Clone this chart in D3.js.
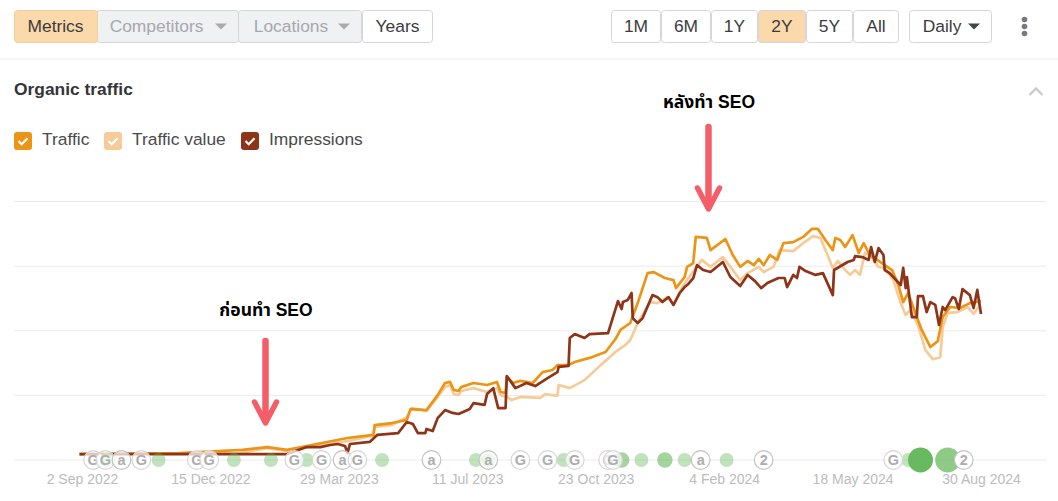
<!DOCTYPE html>
<html lang="en">
<head>
<meta charset="utf-8">
<title>Organic traffic</title>
<script type="text/javascript" src="https://d3js.org/d3.v7.min.js"></script>
<style type="text/css">
    html, body { margin: 0; padding: 0; background: #fff; }
    svg { display: block; }
    text { font-family: "Liberation Sans", Arial, sans-serif; }
    .thai { font-family: "Liberation Sans", "Noto Sans Thai", "Noto Sans", "DejaVu Sans", sans-serif; font-weight: 700; font-size: 17.5px; fill: #000; }
</style>
</head>
<body>
<script type="text/javascript">
// values are % of the top gridline, days are counted from 2 Sep 2022
var tickDates = ["2022-09-02", "2022-12-15", "2023-03-29", "2023-07-11", "2023-10-23", "2024-02-04", "2024-05-18", "2024-08-30"];
var gridValues = [0, 25, 50, 75, 100];

var trafficDays = [-2,79,130,150,166,182,215,236,237,251,263,266,279,288,294,298,301,305,307,317,328,336,339,343,344,349,355,365,373,381,385,394,399,411,424,432,436,444,450,458,463,472,479,481,488,490,495,497,506,509,521,527,533,539,544,548,552,557,563,568,576,584,591,596,602,608,610,614,618,624,629,633,638,644,650,656,661,665,669,676,680,687,693,697,703,711,719,728];
var trafficValues = [2.3,2.7,3.9,5,3.9,5.4,8.5,9.7,13.5,14.3,15.5,19.7,19.3,25.1,29.8,30.2,27.1,26.7,28.2,29.8,29,30.2,26.3,25.9,32.1,29.8,30.6,29.8,34,34.8,36.7,36.7,37.9,39.5,41.8,46.8,50.3,53,60.7,72.3,72.7,70.4,69.6,66.5,70.8,74.7,76.2,86.3,85.9,81.2,85.5,79.3,74.7,77,75.4,77.8,75.4,79.3,77.4,83.9,84.3,86.3,89.4,89.4,85.1,81.2,85.9,85.1,82.4,87,80.1,83.9,79.3,77.4,75.4,73.5,67.7,61.1,64.6,55.3,50.3,43.7,46,55.3,59.2,58.8,60.7,61.5];

var valueDays = [-2,128,150,166,182,215,236,237,251,263,267,279,288,294,298,301,305,307,317,328,336,339,344,348,355,371,375,385,386,395,407,420,432,440,444,450,460,466,474,479,487,497,502,509,519,527,533,539,548,552,560,565,576,584,592,598,603,608,612,618,622,626,630,634,638,645,650,657,663,667,671,677,683,689,695,697,701,709,717,722,727];
var valueValues = [2.3,2.7,4.6,3.5,5,7.3,9.5,12.8,13.5,16.6,20.1,19,24.4,28.2,29,25.5,25.1,26.7,27.8,26.3,27.8,25.1,24.4,23.2,24.4,24,25.5,24.8,29,27.8,30.9,36.7,41.8,44.5,46.4,53,61.1,60.7,63,60,67.7,74.3,77.4,74.7,78.5,73.5,69.6,72.3,74.7,72.7,74.7,81.2,80.8,83.9,86.6,85.9,80.1,74.3,77,73.5,71.6,73.5,71.6,80.1,79.3,74.7,74.3,69.6,60.7,56.1,58,52.2,42.5,39,39.8,51.4,56.9,57.2,59.2,56.5,60];

var impressionDays = [-2,128,166,182,193,201,207,213,215,217,233,239,256,263,268,272,278,279,284,288,294,300,305,314,317,326,328,333,337,343,344,351,360,367,377,385,386,394,395,399,407,411,426,434,437,438,442,445,446,450,454,462,466,470,475,479,484,488,491,495,498,503,509,519,525,533,539,545,550,555,564,569,571,576,579,581,586,594,600,608,609,620,625,626,632,637,639,642,645,649,650,654,663,665,667,668,672,676,677,681,684,687,691,694,697,699,705,707,710,713,719,722,725,728];
var impressionValues = [2.3,2.3,2.3,5,5,5.8,6.2,5.4,2.7,6.2,7,9.7,10.4,14.7,13.9,10.4,10.4,12,11.2,16.2,19.3,18.2,17.8,19.7,22,21.3,25.5,27.8,20.1,20.1,32.5,27.8,29.8,28.6,31.7,34,36,36.4,47.2,48.7,47.2,48.7,49.1,61.5,58.4,61.1,61.9,64.6,54.9,53,54.9,63.8,63,61.1,63,60,64.6,66.9,68.1,70.4,75.4,73.5,72.7,76.6,70.8,67.3,71.6,69.2,66.5,68.5,70.4,70.4,66.9,71.6,70.4,74.7,73.1,71.6,72.3,63.8,73.5,76.6,77.4,78.9,78.5,77.4,82.4,76.6,82,79.3,73.5,72.3,67.7,74.3,66.5,70.8,55.3,55.3,63.4,63.4,57.2,61.1,60,52.2,59.2,58,63,62.6,58.4,66.1,63.8,58.8,65.8,56.5];

var seriesNames = ["Traffic value", "Traffic", "Impressions"];
var seriesColors = ["#f6cb98", "#ec9415", "#8e3418"];

var greenDays = [20,62,123,153,182,243,319,329,390,437,453,472,488,522,669,701,679];
var greenWeights = [1,1,1,1,1,1,1,1,1,1.4,1,1.4,1,1,1,4,5];

var markDays = [9,19,32,48,93,103,172,194,211,223,283,329,355,377,399,426,430,501,552,657,714];
var markLabels = ["G","G","a","G","G","G","G","G","a","G","a","a","G","G","G","G","G","a","2","G","2"];

var legendNames = ["Traffic", "Traffic value", "Impressions"];
var legendColors = ["#ec9415", "#f6cb98", "#8e3418"];

var svg = d3.select("body").append("svg")
    .attr("width", 1058)
    .attr("height", 501);

var parseDate = d3.timeParse("%Y-%m-%d");
var startDate = parseDate(tickDates[0]);

var x = d3.scaleTime()
    .domain([startDate, parseDate(tickDates[tickDates.length - 1])])
    .range([82, 981]);

var y = d3.scaleLinear()
    .domain([0, 100])
    .range([460, 201.5]);

function dayX(d) {
    return x(d3.timeDay.offset(startDate, d));
}

// ---- toolbar ----
function button(b) {
    var g = svg.append("g");
    g.append("rect")
        .attr("x", b.x0 + 0.5).attr("y", 10.5)
        .attr("width", b.x1 - b.x0 - 1).attr("height", 32)
        .attr("rx", 3)
        .attr("fill", b.fill || "#fff")
        .attr("stroke", b.stroke || "#d4d6d9");
    g.append("text")
        .attr("x", b.tx).attr("y", 32)
        .attr("font-size", 17.4)
        .attr("text-anchor", b.anchor || "middle")
        .attr("fill", b.color || "#3b3b3d")
        .text(b.label);
    if (b.caret) {
        g.append("path")
            .attr("d", "M" + (b.caret - 6) + ",23.5h12l-6,6z")
            .attr("fill", b.caretColor || "#a8aaae");
    }
}

button({x0: 238, x1: 362, fill: "#f0f1f3", tx: 291, color: "#a6a8ac", label: "Locations", caret: 344});
button({x0: 96, x1: 239, fill: "#f0f1f3", tx: 156.5, color: "#a6a8ac", label: "Competitors", caret: 221});
button({x0: 14, x1: 98, fill: "#fcd9ab", stroke: "#f3cfa0", tx: 55.5, label: "Metrics"});
button({x0: 362, x1: 433, tx: 397.5, label: "Years"});

var ranges = ["1M", "6M", "1Y", "2Y", "5Y", "All"];
var rangeEdges = [611, 661, 711, 758, 806, 853, 899];
ranges.forEach(function(r, i) {
    button({x0: rangeEdges[i], x1: rangeEdges[i + 1], tx: (rangeEdges[i] + rangeEdges[i + 1]) / 2,
        label: r, fill: r == "2Y" ? "#fcd9ab" : "#fff"});
});
button({x0: 909, x1: 992, tx: 942, label: "Daily", caret: 974, caretColor: "#444"});

[-7, 0, 7].forEach(function(d) {
    svg.append("circle").attr("cx", 1024.5).attr("cy", 26.5 + d).attr("r", 2.8).attr("fill", "#77797c");
});

svg.append("line")
    .attr("x1", 0).attr("x2", 1058)
    .attr("y1", 59).attr("y2", 59)
    .attr("stroke", "#ececec");

svg.append("text")
    .attr("x", 14).attr("y", 95)
    .attr("font-size", 17.4)
    .attr("font-weight", 700)
    .attr("fill", "#333538")
    .text("Organic traffic");

svg.append("path")
    .attr("d", "M1029.5,95l6.5,-6.5l6.5,6.5")
    .attr("fill", "none")
    .attr("stroke", "#c9cbce")
    .attr("stroke-width", 2.4);

// ---- legend ----
var legendX = [14, 104, 241];
var legend = svg.selectAll(".legend")
    .data(legendNames)
    .enter().append("g")
    .attr("class", "legend")
    .attr("transform", function(d, i) { return "translate(" + legendX[i] + ",132)"; });

legend.append("rect")
    .attr("width", 18).attr("height", 18).attr("rx", 3)
    .attr("fill", function(d, i) { return legendColors[i]; });

legend.append("path")
    .attr("d", "M4.5,9l3.2,3.2l5.8,-6")
    .attr("fill", "none")
    .attr("stroke", "#fff")
    .attr("stroke-width", 2.2);

legend.append("text")
    .attr("x", 28).attr("y", 13)
    .attr("font-size", 17.4)
    .attr("fill", "#4a4a4c")
    .text(function(d) { return d; });

// ---- grid and axis ----
svg.selectAll(".grid")
    .data(gridValues)
    .enter().append("line")
    .attr("class", "grid")
    .attr("x1", 14).attr("x2", 1046)
    .attr("y1", function(d) { return y(d); })
    .attr("y2", function(d) { return y(d); })
    .attr("stroke", "#ebebeb");

var xAxis = d3.axisBottom(x)
    .tickValues(tickDates.map(parseDate))
    .tickFormat(d3.timeFormat("%-d %b %Y"))
    .tickSize(0)
    .tickPadding(14);

var axisG = svg.append("g")
    .attr("transform", "translate(0,460)")
    .call(xAxis);
axisG.select(".domain").remove();
axisG.selectAll("text")
    .attr("font-size", 14)
    .attr("font-family", "'Liberation Sans', Arial, sans-serif")
    .attr("fill", "#bcbcbc");

// ---- lines ----
var line = d3.line()
    .x(function(d) { return dayX(d[0]); })
    .y(function(d) { return y(d[1]); });

var seriesData = [
    d3.zip(valueDays, valueValues),
    d3.zip(trafficDays, trafficValues),
    d3.zip(impressionDays, impressionValues)
];

svg.selectAll(".series")
    .data(seriesData)
    .enter().append("path")
    .attr("class", "series")
    .attr("fill", "none")
    .attr("stroke-width", 2.7)
    .attr("stroke-linejoin", "round")
    .attr("stroke", function(d, i) { return seriesColors[i]; })
    .attr("d", line);

// ---- event markers on the baseline ----
var greenRadius = d3.scaleLinear().domain([1, 4, 5]).range([7, 12.5, 12.5]);
var greenOpacity = d3.scaleLinear().domain([1, 1.4, 4, 5]).range([0.42, 0.6, 0.75, 1]);

svg.selectAll(".green")
    .data(d3.zip(greenDays, greenWeights))
    .enter().append("circle")
    .attr("class", "green")
    .attr("cx", function(d) { return dayX(d[0]); })
    .attr("cy", 460)
    .attr("r", function(d) { return greenRadius(d[1]); })
    .attr("fill", "#68b95f")
    .attr("fill-opacity", function(d) { return greenOpacity(d[1]); });

var marks = svg.selectAll(".mark")
    .data(d3.zip(markDays, markLabels))
    .enter().append("g")
    .attr("class", "mark")
    .attr("transform", function(d) { return "translate(" + dayX(d[0]) + ",460)"; });

// see-through white so the green dots still show behind the letters
marks.append("circle")
    .attr("r", 9.3)
    .attr("fill", "#fff")
    .attr("fill-opacity", function(d) { return d[1] == "2" ? 1 : 0.72; })
    .attr("stroke", function(d) { return d[1] == "G" ? "#d6d6d6" : "#c2c2c2"; })
    .attr("stroke-width", 1.2);

marks.append("text")
    .attr("text-anchor", "middle")
    .attr("y", 5)
    .attr("font-size", 14.5)
    .attr("font-weight", 700)
    .attr("fill", "#adadad")
    .text(function(d) { return d[1]; });

// ---- annotations ----
function arrow(ax, y0, y1) {
    svg.append("path")
        .attr("d", "M" + ax + "," + y0 + "L" + ax + "," + (y1 - 6))
        .attr("stroke", "#f35e68").attr("stroke-width", 6.5)
        .attr("stroke-linecap", "round").attr("fill", "none");
    svg.append("path")
        .attr("d", "M" + (ax - 11) + "," + (y1 - 25) + "L" + ax + "," + (y1 - 4) + "L" + (ax + 11) + "," + (y1 - 25))
        .attr("stroke", "#f35e68").attr("stroke-width", 5.5)
        .attr("stroke-linecap", "round").attr("stroke-linejoin", "round").attr("fill", "none");
}
arrow(265.5, 341, 427);
arrow(708.5, 127, 213);

svg.append("text").attr("class", "thai").attr("x", 266).attr("y", 316).attr("text-anchor", "middle").text("ก่อนทำ SEO");
svg.append("text").attr("class", "thai").attr("x", 709).attr("y", 108).attr("text-anchor", "middle").text("หลังทำ SEO");
</script>
</body>
</html>
